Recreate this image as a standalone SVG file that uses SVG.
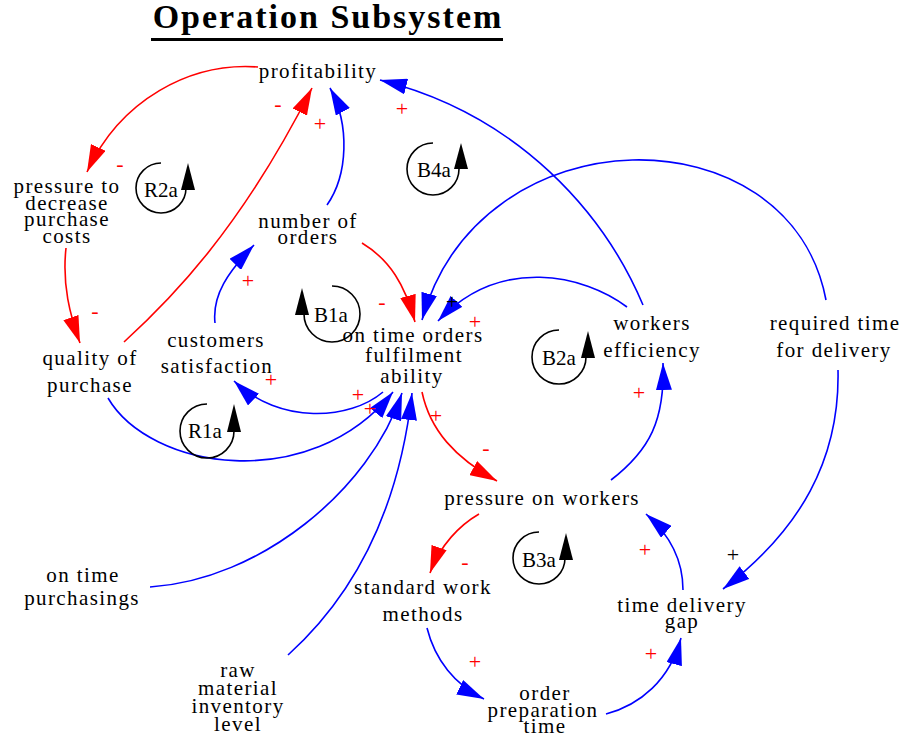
<svg xmlns="http://www.w3.org/2000/svg" width="901" height="736" viewBox="0 0 901 736">
<defs>
<marker id="ahB" markerUnits="userSpaceOnUse" markerWidth="27" markerHeight="16" viewBox="0 0 27 16" refX="27" refY="8" orient="auto"><path d="M0,0 L27,8 L0,16 z" fill="#0000FF"/></marker>
<marker id="ahR" markerUnits="userSpaceOnUse" markerWidth="27" markerHeight="16" viewBox="0 0 27 16" refX="27" refY="8" orient="auto"><path d="M0,0 L27,8 L0,16 z" fill="#FF0000"/></marker>
</defs>
<style>
.n{font-family:"Liberation Serif","Times New Roman",serif;font-size:21px;letter-spacing:1.4px;fill:#000;text-anchor:middle}
.title{font-family:"Liberation Serif","Times New Roman",serif;font-size:34px;font-weight:bold;letter-spacing:2px;fill:#000;text-anchor:middle}
.c{fill:none;stroke-width:1.6}
.b{stroke:#0000FF;marker-end:url(#ahB)}
.r{stroke:#FF0000;marker-end:url(#ahR)}
.p{font-family:"Liberation Serif","Times New Roman",serif;font-size:22px;text-anchor:middle;fill:#FF0000}
.pk{fill:#000}
.loop path{fill:none;stroke:#000;stroke-width:1.6}
.loop polygon{fill:#000}
.loop text{font-family:"Liberation Serif","Times New Roman",serif;font-size:21px;text-anchor:middle;fill:#000}
</style>
<rect width="901" height="736" fill="#fff"/>
<g id="title">
<text class="title" x="328" y="28">Operation Subsystem</text>
<rect x="151" y="38" width="352" height="3" fill="#000"/>
</g>
<g id="connectors">
<path class="c r" d="M258,67 C190,62 120,100 87,172"/>
<path class="c r" d="M66,248 C62,285 70,315 80,343"/>
<path class="c r" d="M124,342 C170,300 240,230 312,88"/>
<path class="c b" d="M327,205 C348,175 350,125 330,88"/>
<path class="c b" d="M643,305 C605,215 520,115 380,80"/>
<path class="c b" d="M826,300 C790,110 480,110 422,320"/>
<path class="c r" d="M362,243 C390,260 405,285 415,322"/>
<path class="c b" d="M383,392 C350,420 280,425 234,381"/>
<path class="c b" d="M215,323 C212,295 228,272 254,245"/>
<path class="c b" d="M108,398 C150,470 310,495 393,392"/>
<path class="c b" d="M150,587 C260,580 370,490 402,393"/>
<path class="c b" d="M288,655 C360,590 400,500 412,393"/>
<path class="c r" d="M422,392 C430,430 455,458 497,481"/>
<path class="c b" d="M611,480 C650,450 665,420 663,363"/>
<path class="c r" d="M479,514 C460,525 440,545 430,573"/>
<path class="c b" d="M427,628 C435,660 455,685 484,699"/>
<path class="c b" d="M606,714 C640,705 670,680 681,638"/>
<path class="c b" d="M683,590 C683,560 670,535 646,514"/>
<path class="c b" d="M838,370 C840,460 800,530 723,589"/>
<path class="c b" d="M627,307 C585,275 500,255 438,321"/>
</g>
<g id="polarities">
<text class="p" x="120" y="171">-</text>
<text class="p" x="278" y="111">-</text>
<text class="p" x="320" y="131">+</text>
<text class="p" x="402" y="116">+</text>
<text class="p" x="95" y="318">-</text>
<text class="p" x="248" y="288">+</text>
<text class="p" x="271" y="387">+</text>
<text class="p" x="382" y="309">-</text>
<text class="p pk" x="452" y="309">+</text>
<text class="p" x="475" y="329">+</text>
<text class="p" x="358" y="402">+</text>
<text class="p" x="370" y="416">+</text>
<text class="p" x="436" y="423">+</text>
<text class="p" x="486" y="455">-</text>
<text class="p" x="639" y="400">+</text>
<text class="p" x="465" y="569">-</text>
<text class="p" x="475" y="669">+</text>
<text class="p" x="645" y="557">+</text>
<text class="p" x="651" y="661">+</text>
<text class="p pk" x="733" y="562">+</text>
</g>
<g id="loop-R2a" class="loop"><path d="M161,163 A25,25 0 1 0 186,188"/><polygon points="188,163 181,190 195,190"/><text x="161" y="197">R2a</text></g>
<g id="loop-B4a" class="loop"><path d="M433,143 A26,26 0 1 0 459,169"/><polygon points="461,143 454,169 468,169"/><text x="434" y="177">B4a</text></g>
<g id="loop-B1a" class="loop"><path d="M332,286 A28,28 0 1 1 304,314"/><polygon points="302,288 295,315 309,315"/><text x="331" y="322">B1a</text></g>
<g id="loop-B2a" class="loop"><path d="M559,330 A27,27 0 1 0 586,357"/><polygon points="588,331 581,358 595,358"/><text x="559" y="365">B2a</text></g>
<g id="loop-R1a" class="loop"><path d="M207,404 A27,27 0 1 0 234,431"/><polygon points="234,404 227,432 241,432"/><text x="205" y="438">R1a</text></g>
<g id="loop-B3a" class="loop"><path d="M539,532 A26,26 0 1 0 565,558"/><polygon points="566,533 559,560 573,560"/><text x="539" y="567">B3a</text></g>
<g id="node-profitability"><text class="n" x="318" y="78">profitability</text></g>
<g id="node-pressure-purchase"><text class="n"><tspan x="67" y="193">pressure to</tspan><tspan x="67" y="210">decrease</tspan><tspan x="67" y="226">purchase</tspan><tspan x="67" y="243">costs</tspan></text></g>
<g id="node-number-orders"><text class="n"><tspan x="308" y="228">number of</tspan><tspan x="308" y="244">orders</tspan></text></g>
<g id="node-customers"><text class="n"><tspan x="216" y="347">customers</tspan><tspan x="217" y="373">satisfaction</tspan></text></g>
<g id="node-quality"><text class="n"><tspan x="90" y="365">quality of</tspan><tspan x="90" y="392">purchase</tspan></text></g>
<g id="node-fulfilment"><text class="n"><tspan x="413" y="342">on time orders</tspan><tspan x="414" y="362">fulfilment</tspan><tspan x="412" y="383">ability</tspan></text></g>
<g id="node-workers-eff"><text class="n"><tspan x="652" y="330">workers</tspan><tspan x="652" y="357">efficiency</tspan></text></g>
<g id="node-required-time"><text class="n"><tspan x="835" y="330">required time</tspan><tspan x="834" y="357">for delivery</tspan></text></g>
<g id="node-pressure-workers"><text class="n" x="542" y="505">pressure on workers</text></g>
<g id="node-standard"><text class="n"><tspan x="423" y="594">standard work</tspan><tspan x="423" y="621">methods</tspan></text></g>
<g id="node-gap"><text class="n"><tspan x="682" y="612">time delivery</tspan><tspan x="682" y="628">gap</tspan></text></g>
<g id="node-order-prep"><text class="n"><tspan x="545" y="700">order</tspan><tspan x="543" y="717">preparation</tspan><tspan x="545" y="733">time</tspan></text></g>
<g id="node-purchasings"><text class="n"><tspan x="83" y="582">on time</tspan><tspan x="82" y="605">purchasings</tspan></text></g>
<g id="node-raw"><text class="n"><tspan x="238" y="677">raw</tspan><tspan x="238" y="695">material</tspan><tspan x="238" y="713">inventory</tspan><tspan x="238" y="731">level</tspan></text></g>
</svg>
